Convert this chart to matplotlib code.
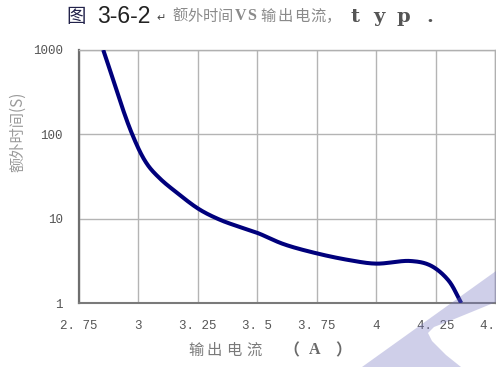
import numpy as np
import matplotlib
matplotlib.use("Agg")
import matplotlib.pyplot as plt
from matplotlib.patches import Polygon

# Output current (A) vs. extra time (s), typical curve
current_a = [2.852, 2.972, 3.035, 3.09, 3.16, 3.256, 3.343, 3.43, 3.502,
             3.61, 3.753, 3.891, 4.0, 4.143, 4.227, 4.303, 4.358]
extra_time_s = [1000, 103, 45, 30, 20.5, 12.9, 9.7, 7.9, 6.75,
                5.0, 3.86, 3.21, 2.93, 3.15, 2.80, 1.87, 1.0]

x_ticks = [2.75, 3.0, 3.25, 3.5, 3.75, 4.0, 4.25, 4.5]
x_tick_labels = ["2. 75", "3", "3. 25", "3. 5", "3. 75", "4", "4. 25", "4. 5"]
y_ticks = [1, 10, 100, 1000]
y_tick_labels = ["1", "10", "100", "1000"]

W, H = 496, 367


def centripetal_spline(xs, ys, sx=1.0, sy=1.0, n=40):
    """Centripetal Catmull-Rom curve through the points (scaled for spacing)."""
    p = np.column_stack([np.asarray(xs) * sx, np.asarray(ys) * sy]).astype(float)
    p = np.vstack([2 * p[0] - p[1], p, 2 * p[-1] - p[-2]])
    out = []
    for i in range(1, len(p) - 2):
        p0, p1, p2, p3 = p[i - 1], p[i], p[i + 1], p[i + 2]
        t0 = 0.0
        t1 = t0 + np.linalg.norm(p1 - p0) ** 0.5
        t2 = t1 + np.linalg.norm(p2 - p1) ** 0.5
        t3 = t2 + np.linalg.norm(p3 - p2) ** 0.5
        t = np.linspace(t1, t2, n, endpoint=False)[:, None]
        a1 = (t1 - t) / (t1 - t0) * p0 + (t - t0) / (t1 - t0) * p1
        a2 = (t2 - t) / (t2 - t1) * p1 + (t - t1) / (t2 - t1) * p2
        a3 = (t3 - t) / (t3 - t2) * p2 + (t - t2) / (t3 - t2) * p3
        b1 = (t2 - t) / (t2 - t0) * a1 + (t - t0) / (t2 - t0) * a2
        b2 = (t3 - t) / (t3 - t1) * a2 + (t - t1) / (t3 - t1) * a3
        c = (t2 - t) / (t2 - t1) * b1 + (t - t1) / (t2 - t1) * b2
        out.append(c)
    out.append(p[-2][None, :])
    out = np.vstack(out)
    return out[:, 0] / sx, out[:, 1] / sy


def fx(px):
    return px / W


def fy(py):
    return 1 - py / H


fig = plt.figure(figsize=(W / 100, H / 100), dpi=100)
fig.patch.set_facecolor("white")

left, right, top, bottom = 79, 495, 50, 303
ax = fig.add_axes([fx(left), fy(bottom), (right - left) / W, (bottom - top) / H])

cx_, cy_ = centripetal_spline(current_a, np.log10(extra_time_s), sx=237.6, sy=84.3)
ax.plot(cx_, 10 ** cy_, color="#00007c", lw=2.9, solid_capstyle="butt", zorder=3)

ax.set_yscale("log")
ax.set_xlim(2.75, 4.5)
ax.set_ylim(1, 1000)
ax.set_xticks(x_ticks)
ax.set_xticklabels(x_tick_labels)
ax.set_yticks(y_ticks)
ax.set_yticklabels(y_tick_labels)
ax.yaxis.set_minor_locator(matplotlib.ticker.NullLocator())
ax.tick_params(length=0, labelsize=9, colors="#555555")
ax.tick_params(axis="y", pad=11.5)
ax.tick_params(axis="x", pad=12)
for lab in ax.get_xticklabels() + ax.get_yticklabels():
    lab.set_fontfamily("Liberation Mono")

ax.grid(True, color="#b4b4b4", lw=1.0)
ax.set_axisbelow(True)
ax.spines["left"].set_color("#6e6e6e")
ax.spines["left"].set_linewidth(1.6)
ax.spines["bottom"].set_color("#7a7a7a")
ax.spines["bottom"].set_linewidth(1.5)
ax.spines["top"].set_color("#b0b0b0")
ax.spines["top"].set_linewidth(1.0)
ax.spines["right"].set_color("#b0b0b0")
ax.spines["right"].set_linewidth(1.0)

cjk = ["Noto Sans CJK SC", "DejaVu Sans"]

# Axis titles
fig.text(fx(18), fy(132), "额外时间(S)", rotation=90, ha="center", va="center",
         fontsize=11, color="#9a9a9a", family=cjk)
for ch, cx in zip("输出电流", [196, 214.5, 234, 254]):
    fig.text(fx(cx), fy(350), ch, ha="center", va="center",
             fontsize=11, color="#7a7a7a", family=cjk)
for ch, cx, fam in zip("（A）", [291, 315, 343],
                       [cjk, ["Liberation Serif"], cjk]):
    fig.text(fx(cx), fy(350), ch, ha="center", va="center",
             fontsize=11.5, color="#6a6a6a", family=fam, fontweight="bold")

# Caption
fig.text(fx(76), fy(16), "图", ha="center", va="center", fontsize=14,
         color="#22224a", family=cjk)
fig.text(fx(97), fy(16.5), "3-6-2", ha="left", va="center", fontsize=16.5,
         color="#222222", family=["Liberation Sans"])
fig.text(fx(161), fy(18), "↵", ha="center", va="center", fontsize=8,
         color="#444444", family=["DejaVu Sans"])
cap_chars = list("额外时间") + list("输出电流") + ["，"]
cap_x = [180.5, 195.5, 210.5, 225.5, 268, 285, 302, 318, 334]
for ch, cx in zip(cap_chars, cap_x):
    fig.text(fx(cx), fy(16), ch, ha="center", va="center", fontsize=11,
             color="#8a8a8a", family=cjk)
for ch, cx in zip("VS", [240.5, 252]):
    fig.text(fx(cx), fy(16), ch, ha="center", va="center", fontsize=11.5,
             color="#8a8a8a", family=["Liberation Serif"], fontweight="bold")
for ch, cx in zip("typ.", [355, 379, 403, 430]):
    fig.text(fx(cx), fy(17), ch, ha="center", va="center", fontsize=14,
             color="#555555", family=["DejaVu Serif"], fontweight="bold")

# Watermark shape
wm_px = [(362, 367), (496, 271), (496, 302), (452, 320), (434, 327),
         (428, 333), (432, 341), (446, 355), (461, 367)]
wm = Polygon([(fx(x), fy(y)) for x, y in wm_px], closed=True,
             transform=fig.transFigure, facecolor="#7878c0", alpha=0.35,
             edgecolor="none", zorder=10)
fig.add_artist(wm)

fig.savefig("out.png", dpi=100)
